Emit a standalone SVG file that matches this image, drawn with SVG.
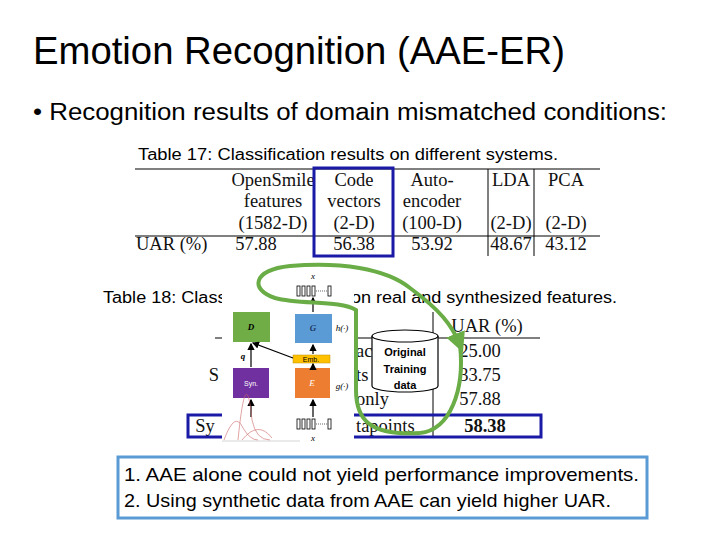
<svg xmlns="http://www.w3.org/2000/svg" width="720" height="540" viewBox="0 0 720 540">
<style>
.c{font-family:"Liberation Sans",Arial,sans-serif;fill:#000}
.t{font-family:"Liberation Serif","Times New Roman",serif;font-size:18.5px;fill:#111;text-anchor:middle}
.ln{stroke:#000;stroke-width:1}
.bx{fill:none;stroke:#1a1aa6;stroke-width:3}
.a{stroke:#000;stroke-width:1.2;marker-end:url(#ar)}
.s{font-family:"Liberation Sans",Arial,sans-serif;font-size:7px;text-anchor:middle}
.i{font-family:"Liberation Serif",serif;font-style:italic;font-size:9px;text-anchor:middle}
</style>
<defs>
<marker id="ar" markerWidth="6" markerHeight="6" refX="5" refY="3" orient="auto"><path d="M0,0L6,3L0,6z" fill="#000"/></marker>
<marker id="ga" markerWidth="5" markerHeight="5" refX="3" refY="2.5" orient="auto"><path d="M0,0L5,2.5L0,5z" fill="#6aad46"/></marker>
</defs>
<rect width="720" height="540" fill="#fff"/>
<text class="c" x="33" y="64" font-size="38" textLength="532" lengthAdjust="spacingAndGlyphs" fill="#333">Emotion Recognition (AAE-ER)</text>
<text class="c" x="33" y="120" font-size="23" textLength="634" lengthAdjust="spacingAndGlyphs">• Recognition results of domain mismatched conditions:</text>

<g id="table17">
<text class="c" x="138" y="160" font-size="16" textLength="420" lengthAdjust="spacingAndGlyphs">Table 17: Classification results on different systems.</text>
<line class="ln" x1="135" y1="169" x2="600" y2="169"/>
<line class="ln" x1="135" y1="236" x2="600" y2="236"/>
<line class="ln" x1="488" y1="169" x2="488" y2="256"/>
<line class="ln" x1="534" y1="169" x2="534" y2="256"/>
<text class="t" x="273" y="186">OpenSmile</text><text class="t" x="273" y="207">features</text><text class="t" x="273" y="229">(1582-D)</text>
<text class="t" x="354" y="186">Code</text><text class="t" x="354" y="207">vectors</text><text class="t" x="354" y="229">(2-D)</text>
<text class="t" x="432" y="186">Auto-</text><text class="t" x="432" y="207">encoder</text><text class="t" x="432" y="229">(100-D)</text>
<text class="t" x="511" y="186">LDA</text><text class="t" x="511" y="229">(2-D)</text>
<text class="t" x="566" y="186">PCA</text><text class="t" x="566" y="229">(2-D)</text>
<text class="t" x="136" y="250" style="text-anchor:start">UAR (%)</text>
<text class="t" x="256" y="250">57.88</text><text class="t" x="354" y="250">56.38</text><text class="t" x="432" y="250">53.92</text><text class="t" x="511" y="250">48.67</text><text class="t" x="566" y="250">43.12</text>
<rect class="bx" x="314" y="168" width="79" height="88"/>
</g>

<g id="table18">
<text class="c" x="103" y="303" font-size="16" textLength="514" lengthAdjust="spacingAndGlyphs">Table 18: Classification results on real and synthesized features.</text>
<line class="ln" x1="215" y1="338" x2="540" y2="338"/>
<line class="ln" x1="433" y1="312" x2="433" y2="437"/>
<text class="t" x="487" y="332" font-size="19">UAR (%)</text>
<text class="t" x="480" y="357">25.00</text><text class="t" x="480" y="381">33.75</text><text class="t" x="480" y="405">57.88</text>
<text class="t" x="485" y="432" font-weight="bold">58.38</text>
<text class="t" x="214" y="381" font-size="19">S</text>
<text class="t" x="205" y="432" font-size="19">Sy</text>
<text class="t" x="356" y="357" style="text-anchor:start" font-size="19">ac</text>
<text class="t" x="356" y="381" style="text-anchor:start" font-size="19">ts</text>
<text class="t" x="356" y="405" style="text-anchor:start" font-size="19">only</text>
<text class="t" x="356" y="432" style="text-anchor:start" font-size="19">tapoints</text>
<rect class="bx" x="188" y="415" width="353" height="22"/>
</g>

<g id="aae-figure">
<rect x="222" y="268" width="132" height="174" fill="#fff"/>
<text class="i" x="313" y="279">x</text>
<g fill="#fff" stroke="#000" stroke-width="0.8">
<rect x="297" y="286" width="3" height="10"/><rect x="302" y="286" width="3" height="10"/><rect x="307" y="286" width="3" height="10"/><rect x="312" y="286" width="3" height="10"/><rect x="328" y="286" width="3" height="10"/>
<rect x="297" y="419" width="3" height="10"/><rect x="302" y="419" width="3" height="10"/><rect x="307" y="419" width="3" height="10"/><rect x="312" y="419" width="3" height="10"/><rect x="328" y="419" width="3" height="10"/>
</g>
<line x1="316" y1="291" x2="327" y2="291" stroke="#000" stroke-width="0.6" stroke-dasharray="1,1"/>
<line x1="316" y1="424" x2="327" y2="424" stroke="#000" stroke-width="0.6" stroke-dasharray="1,1"/>
<text class="i" x="313" y="441">x</text>
<rect x="233" y="312" width="37" height="30" fill="#70ad47"/>
<text class="i" x="251" y="330" font-weight="bold">D</text>
<rect x="295" y="314" width="37" height="29" fill="#5b9bd5"/>
<text class="i" x="313" y="331" font-weight="bold" fill="#1f3864">G</text>
<rect x="293" y="355" width="37" height="8" fill="#ffc000" stroke="#bf9000" stroke-width="0.5"/>
<text class="s" x="311" y="362">Emb.</text>
<rect x="233" y="368" width="36" height="30" fill="#7030a0"/>
<text class="s" x="251" y="386" fill="#fff">Syn.</text>
<rect x="295" y="368" width="35" height="30" fill="#ed7d31"/>
<text class="i" x="312" y="386" fill="#fff">E</text>
<text class="i" x="342" y="331">h(·)</text>
<text class="i" x="342" y="389">g(·)</text>
<text class="i" x="243" y="359" font-weight="bold">q</text>
<line class="a" x1="251" y1="367" x2="251" y2="344"/>
<line class="a" x1="293" y1="358" x2="253" y2="343"/>
<line class="a" x1="313" y1="367" x2="313" y2="364"/>
<line class="a" x1="313" y1="354" x2="313" y2="345"/>
<line class="a" x1="313" y1="312" x2="313" y2="298"/>
<line class="a" x1="313" y1="417" x2="313" y2="400"/>
<line class="a" x1="251" y1="417" x2="251" y2="400"/>
<path d="M224,440 Q235,410 243,428 Q250,440 258,440 M238,440 Q246,360 252,420 Q256,440 270,440 M242,440 Q258,420 272,438" fill="none" stroke="#c66" stroke-width="0.6"/>
<path d="M222,441H300" stroke="#aaa" stroke-width="0.5"/>
</g>

<g id="connectors">
<path d="M420,433 C370,436 356,420 356,390 C356,360 356,330 356,310 C340,300 300,305 275,298 C250,290 252,270 290,266 C340,262 385,268 410,288 C440,310 452,325 460,345" fill="none" stroke="#6aad46" stroke-width="4" marker-end="url(#ga)"/>
<path d="M420,433 C450,430 465,390 460,345" fill="none" stroke="#6aad46" stroke-width="4"/>
</g>

<g id="original-training-data">
<path d="M372,336 V386 A33,6 0 0 0 438,386 V336" fill="#fff" stroke="#000" stroke-width="1.2"/>
<ellipse cx="405" cy="336" rx="33" ry="6" fill="#fff" stroke="#000" stroke-width="1.2"/>
<text class="c" x="405" y="356" font-size="11" font-weight="bold" text-anchor="middle">Original</text>
<text class="c" x="405" y="373" font-size="11" font-weight="bold" text-anchor="middle">Training</text>
<text class="c" x="405" y="389" font-size="11" font-weight="bold" text-anchor="middle">data</text>
</g>

<g id="conclusion">
<rect x="118" y="457" width="529" height="61" fill="#fff" stroke="#5b9bd5" stroke-width="3"/>
<text class="c" x="124" y="481" font-size="19" textLength="515" lengthAdjust="spacingAndGlyphs">1. AAE alone could not yield performance improvements.</text>
<text class="c" x="124" y="507" font-size="19" textLength="487" lengthAdjust="spacingAndGlyphs">2. Using synthetic data from AAE can yield higher UAR.</text>
</g>
</svg>
